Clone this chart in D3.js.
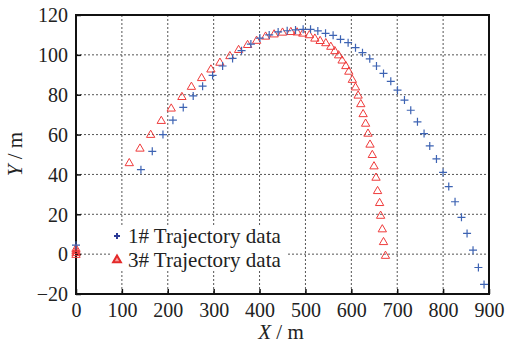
<!DOCTYPE html>
<html lang="en">
<head>
  <meta charset="UTF-8">
  <title>Trajectory</title>
  <script src="https://d3js.org/d3.v7.min.js"></script>
  <style>
    * { margin: 0; padding: 0; }
    body { background-color: #fff; }
    svg { display: block; font-family: "Liberation Serif", "DejaVu Serif", serif; }
    .grid line { stroke: #555; stroke-width: 1; stroke-dasharray: 2,2; }
  </style>
</head>
<body>
  <svg id="chart" width="508" height="348"></svg>

  <script>
    // tick values
    var xTicks = [0, 100, 200, 300, 400, 500, 600, 700, 800, 900];
    var yTicks = [-20, 0, 20, 40, 60, 80, 100, 120];

    // 1# trajectory (blue +)
    var blueX = [0, 141.5, 166.2, 189.5, 211.2, 233.7, 255.4, 275.9, 297.7, 319.5, 341.2, 360.8, 381.1, 400.7,
      421, 440.5, 460.2, 478.4, 495, 511.1, 527, 543.8, 560.3, 576.4, 593, 609.1, 624.3, 640.2, 654.8,
      670.1, 686, 700.6, 715.8, 729.5, 744.1, 758.5, 770.9, 785.5, 799.9, 812.3, 826, 840, 852.2, 865.2,
      876.9, 889.2];
    var blueY = [4.5, 42.4, 51.6, 60.0, 67.2, 73.6, 79.4, 84.3, 89.7, 94.4, 98.2, 102.1, 105.4, 108.4,
      110, 111.5, 112.1, 112.5, 112.8, 112.8, 112, 110.8, 109.8, 107.8, 106.1, 103.6, 101.1, 98, 94.4,
      90.7, 86.7, 82.3, 77.3, 72.2, 66.4, 60.5, 54.3, 47.8, 41, 33.9, 26.3, 18.5, 10.4, 2,
      -6.7, -15.2];

    // 3# trajectory (red triangles)
    var redX = [0, 0, 0, 0, 116.1, 139.4, 162.7, 185.8, 207.5, 230.8, 251.5, 273.7, 294, 313.6, 335.4, 354.3,
      373.9, 393.5, 413.1, 431.8, 450.1, 468.2, 481.9, 494.3, 508.5, 520.5, 532, 544.4, 555.3, 564,
      572.3, 579.9, 588, 594.5, 602.2, 609.1, 614.8, 620.6, 625.7, 631.1, 636.3, 640.7, 645.7, 649.4,
      653.8, 657.2, 661.6, 663.8, 667.5, 670.1, 674.4];
    var redY = [0, 1, 2, 3, 46, 53.3, 60.2, 67.2, 73.4, 79.2, 84.3, 88.7, 93, 96.4, 99.7, 102.8,
      105.3, 107.4, 109.5, 110.6, 111.5, 111.8, 111.6, 111, 110.2, 108.5, 107.3, 106.2, 104.4, 102.2,
      100.1, 97.5, 94.7, 91.9, 87.8, 84, 79.9, 75.6, 70.6, 65.8, 60.8, 55.3, 50.1, 44.4,
      38.7, 32, 26, 19.6, 12.8, 6.4, -0.5];

    var legendLabels = ["1# Trajectory data", "3# Trajectory data"];

    var svg = d3.select("#chart");
    var margin = { left: 76, top: 15, right: 19, bottom: 54 };
    var width = 508 - margin.left - margin.right,
      height = 348 - margin.top - margin.bottom;
    var serif = "'Liberation Serif', 'DejaVu Serif', serif";

    var x = d3.scaleLinear().domain([0, 900]).range([0, width]);
    var y = d3.scaleLinear().domain([-20, 120]).range([height, 0]);

    var g = svg.append("g").attr("transform", "translate(" + margin.left + "," + margin.top + ")");

    // grid
    var grid = g.append("g").attr("class", "grid");
    grid.selectAll(".gx").data(xTicks.slice(1, -1)).enter().append("line")
      .attr("x1", function(d) { return x(d); }).attr("x2", function(d) { return x(d); })
      .attr("y1", 0).attr("y2", height);
    grid.selectAll(".gy").data(yTicks.slice(1, -1)).enter().append("line")
      .attr("y1", function(d) { return y(d); }).attr("y2", function(d) { return y(d); })
      .attr("x1", 0).attr("x2", width);

    // legend background hides grid
    g.append("rect").attr("x", 34).attr("y", 210).attr("width", 176).attr("height", 46).attr("fill", "#fff");

    // axes (ticks inward)
    var xAxis = g.append("g").attr("transform", "translate(0," + height + ")")
      .call(d3.axisBottom(x).tickValues(xTicks).tickSize(-5).tickPadding(9).tickFormat(d3.format("d")));
    var yAxis = g.append("g")
      .call(d3.axisLeft(y).tickValues(yTicks).tickSize(-5).tickPadding(8)
        .tickFormat(function(d) { return d < 0 ? "\u2212" + Math.abs(d) : d; }));
    [xAxis, yAxis].forEach(function(a) {
      a.select(".domain").remove();
      a.selectAll(".tick line").attr("stroke", "#111").attr("stroke-width", 1.5);
      a.selectAll(".tick text")
        .style("font-family", serif).style("font-size", "20px").attr("fill", "#222");
    });
    xAxis.selectAll(".tick text").attr("dy", "0.71em");
    yAxis.selectAll(".tick text").attr("dy", "0.34em");

    // frame
    g.append("rect").attr("x", 0).attr("y", 0).attr("width", width).attr("height", height)
      .attr("fill", "none").attr("stroke", "#111").attr("stroke-width", 2);

    var blue = "#3d63b3", red = "#ef3b3b";
    var tri = d3.symbol().type(d3.symbolTriangle).size(30);

    // red triangles
    g.append("g").selectAll("path").data(d3.range(redX.length)).enter().append("path")
      .attr("d", tri)
      .attr("transform", function(i) { return "translate(" + x(redX[i]) + "," + (y(redY[i]) + 0.8) + ")"; })
      .attr("fill", "none").attr("stroke", red).attr("stroke-width", 1);

    // blue pluses
    var plusPath = "M-4,0H4M0,-4V4";
    g.append("g").selectAll("path").data(d3.range(blueX.length)).enter().append("path")
      .attr("d", plusPath)
      .attr("transform", function(i) { return "translate(" + x(blueX[i]) + "," + y(blueY[i]) + ")"; })
      .attr("fill", "none").attr("stroke", blue).attr("stroke-width", 1.2);

    // legend
    var lg = g.append("g").attr("transform", "translate(41,221)");
    lg.append("path").attr("d", "M-3,0H3M0,-3V3").attr("stroke", "#2b3a96").attr("stroke-width", 2);
    lg.append("path").attr("d", d3.symbol().type(d3.symbolTriangle).size(26))
      .attr("transform", "translate(0,24)").attr("fill", "#f7a0a0").attr("stroke", "#e42a2a").attr("stroke-width", 2);
    lg.selectAll("text").data(legendLabels).enter().append("text")
      .attr("x", 11).attr("y", function(d, i) { return i * 24; }).attr("dy", "0.34em")
      .style("font-family", serif).attr("font-size", 21).attr("fill", "#222").text(function(d) { return d; });

    // axis titles
    var xt = svg.append("text").attr("x", 281).attr("y", 339).attr("text-anchor", "middle")
      .style("font-family", serif).attr("font-size", 21).attr("fill", "#222");
    xt.append("tspan").attr("font-style", "italic").text("X");
    xt.append("tspan").text(" / m");
    var yt = svg.append("text").attr("transform", "translate(22,154) rotate(-90)").attr("text-anchor", "middle")
      .style("font-family", serif).attr("font-size", 21).attr("fill", "#222");
    yt.append("tspan").attr("font-style", "italic").text("Y");
    yt.append("tspan").text(" / m");
  </script>
</body>
</html>
